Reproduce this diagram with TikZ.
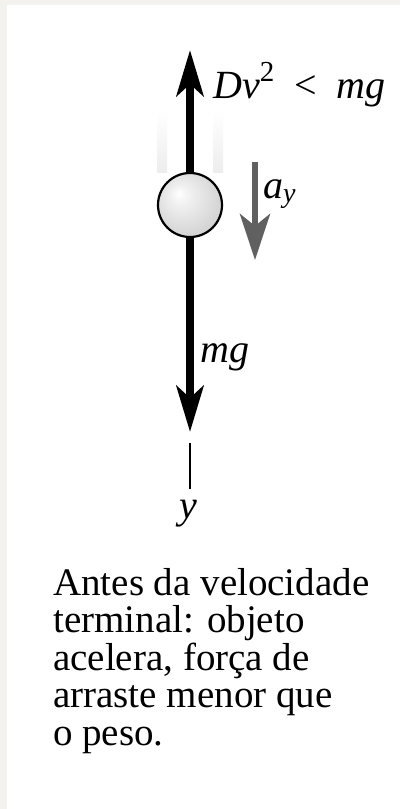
\documentclass[tikz,border=0pt]{standalone}
\usepackage{fontspec}
\setmainfont{Liberation Serif}
\usetikzlibrary{positioning, arrows.meta, shadings}

\definecolor{framegray}{RGB}{243,242,238}
\definecolor{aygray}{RGB}{96,96,96}
\pgfdeclareradialshading{softball}{\pgfpoint{-9bp}{9bp}}{color(0bp)=(white); color(8bp)=(white!94!black); color(30bp)=(white!82!black); color(50bp)=(white!72!black)}

\begin{document}
\begin{tikzpicture}[x=1pt, y=-1pt,
      force/.style={line width=8pt, -{Stealth[length=46pt, width=27pt, inset=12pt]}},
      accel/.style={aygray, line width=6pt, -{Stealth[length=46pt, width=30pt, inset=12pt]}},
      lbl/.style={font=\fontsize{40}{44}\selectfont\itshape, inner sep=0pt},
      streak/.style={top color=white, bottom color=black!7, draw=none}]
      % frame
      \fill[framegray] (0,0) rectangle (400,809);
      \fill[white] (7,5) rectangle (400,809);
      % motion streaks
      \shade[streak] (157,110) rectangle (167,172);
      \shade[streak] (213,110) rectangle (223,172);
      \node[circle, draw, line width=2.2pt, minimum size=64pt, inner sep=0pt,
            shading=softball] (ball) at (190,205) {};
      \coordinate (uptip) at (190,50);
      \coordinate (downtip) at (190,432);
      \draw[force] (ball.north) -- (uptip);
      \draw[force] (ball.south) -- (downtip);
      \node[lbl, anchor=base west] (drag) at (213,98)
            {Dv\raisebox{0.42em}{\fontsize{29}{29}\selectfont\upshape 2}\enspace{\upshape <}\enspace mg};
      \node[lbl, anchor=base west] (weight) at (200,362) {mg};
      % acceleration
      \coordinate (atop) at (255,162);
      \coordinate (abot) at (255,260);
      \draw[accel] (atop) -- (abot);
      \node[lbl, anchor=base west] (acc) at (263,198) {a\textsubscript{y}};
      % y axis
      \node[lbl, anchor=base] (yaxis) at (188,518) {y};
      \coordinate (axtop) at (190,443);
      \draw[line width=1.3pt] (axtop) -- (190,489);
      \node[font=\fontsize{39}{37.5}\selectfont, align=left, anchor=north west, inner sep=0pt]
            (caption) at (53,568) {Antes da velocidade\\terminal: objeto\\acelera, força de\\arraste menor que\\o peso.};
    \end{tikzpicture}
\end{document}
